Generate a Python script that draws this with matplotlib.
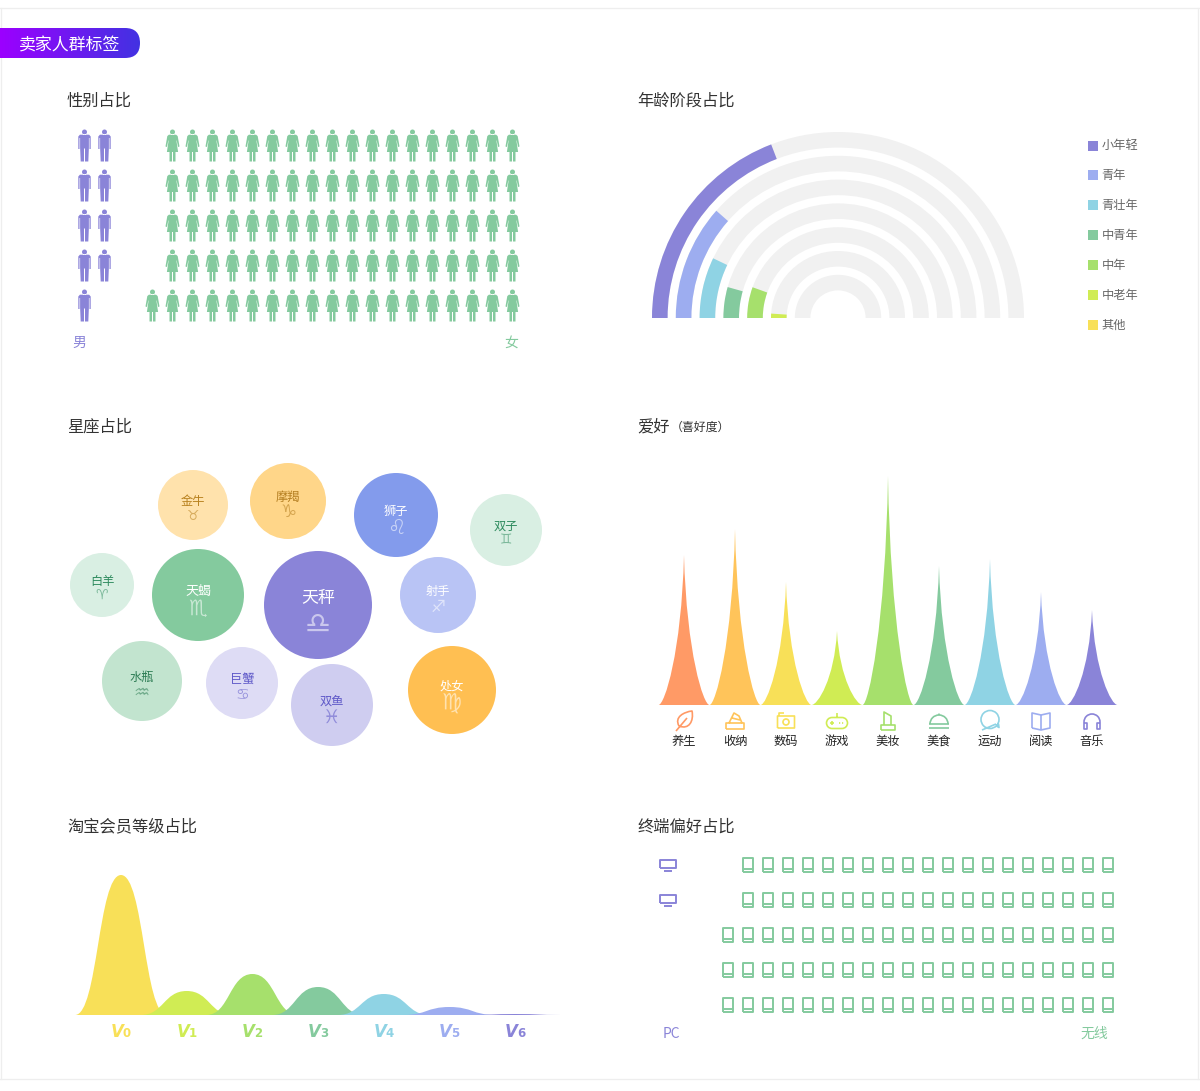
import numpy as np
import matplotlib
matplotlib.use('Agg')
import matplotlib.pyplot as plt
from matplotlib.patches import Wedge, PathPatch, FancyBboxPatch
from matplotlib.path import Path
from matplotlib.transforms import Affine2D

plt.rcParams['font.family'] = ['Noto Sans CJK SC', 'DejaVu Sans']

W, H = 1200, 1091

# Colours
PURPLE = '#8A84D8'
PERI = '#9DADF0'
SKY = '#8FD3E4'
TEAL = '#84CA9E'
GREEN = '#A6E06C'
LIME = '#D0EC54'
YELLOW = '#F8E058'

# Gender
male_count = 9
female_count = 91

# Age
age_labels = ['小年轻', '青年', '青壮年', '中青年', '中年', '中老年', '其他']
age_values = [38.3, 23.0, 14.2, 8.7, 11.0, 2.1, 0.0]
age_colors = [PURPLE, PERI, SKY, TEAL, GREEN, LIME, YELLOW]

# Zodiac
zodiac_names = ['金牛', '摩羯', '狮子', '双子', '白羊', '天蝎', '天秤', '射手', '水瓶', '巨蟹', '双鱼', '处女']
zodiac_signs = ['♉', '♑', '♌', '♊', '♈', '♏', '♎', '♐', '♒', '♋', '♓', '♍']
zodiac_radius = [35, 38, 42, 36, 32, 46, 54, 38, 40, 36, 41, 44]
zodiac_x = [193, 288, 396, 506, 102, 198, 318, 438, 142, 242, 332, 452]
zodiac_y = [505, 501, 515, 530, 585, 595, 605, 595, 681, 683, 705, 690]
zodiac_fill = ['#FFE2AC', '#FFD689', '#839BEC', '#D9EFE3', '#D9EFE3', '#84CA9E', '#8A84D8',
               '#B9C4F5', '#C2E4CF', '#DEDCF5', '#CFCDF0', '#FFBF52']
zodiac_text = ['#B8811E', '#B47E20', 'white', '#2E8B5E', '#2E8B5E', 'white', 'white',
               'white', '#2E7D55', '#5E58C8', '#5E58C8', 'white']
zodiac_sign_pt = [10, 13, 15, 10, 10, 15, 21, 12, 13, 11, 14, 16]

# Hobby
hobby_labels = ['养生', '收纳', '数码', '游戏', '美妆', '美食', '运动', '阅读', '音乐']
hobby_values = [150, 176, 123, 74, 229, 139, 146, 113, 95]
hobby_colors = ['#FF9A66', '#FFC45A', YELLOW, LIME, GREEN, TEAL, SKY, PERI, PURPLE]

# Taobao member level
vip_labels = ['V0', 'V1', 'V2', 'V3', 'V4', 'V5', 'V6']
vip_values = [140, 24, 41, 28, 21, 8, 1]
vip_colors = [YELLOW, LIME, GREEN, TEAL, SKY, PERI, PURPLE]

# Terminal
pc_count = 2
wireless_count = 98


def panel(x0, y0, x1, y1, xlim=None, ylim=None):
    ax = fig.add_axes([x0 / W, 1 - y1 / H, (x1 - x0) / W, (y1 - y0) / H])
    ax.set_xlim(xlim if xlim else (x0, x1))
    ax.set_ylim(ylim if ylim else (y1, y0))
    ax.axis('off')
    ax.patch.set_alpha(0)
    return ax


def px_size(path):
    # scatter scales a custom marker by its largest coordinate
    return (2 * np.abs(path.vertices).max() * 0.72) ** 2


def strokes(*segs):
    return Path.make_compound_path(*[s if isinstance(s, Path) else Path(s) for s in segs])


def ring(x, y, r):
    return Path.circle((x, y), r)


def arc(x, y, r, t1, t2):
    return Path.arc(t1, t2).transformed(Affine2D().scale(r).translate(x, y))


def mirrored(right_side):
    # closed outline from its right half, top to bottom
    left_side = [(-x, y) for x, y in reversed(right_side)]
    pts = right_side + left_side
    return pts + [pts[0]]


def row_split(count, per_row, rows=5):
    out = []
    for _ in range(rows):
        n = min(per_row, count)
        out.append(n)
        count -= n
    return out


def pictogram(ax, left_count, left_per_row, left_x, right_x, row_y, left_icon, right_icon, left_c, right_c,
              stroke=False):
    left_rows = row_split(left_count, left_per_row)
    lx, ly, rx, ry = [], [], [], []
    for r, n in enumerate(left_rows):
        lx += [left_x + 20 * k for k in range(n)]
        ly += [row_y[r]] * n
        m = 20 - n
        rx += [right_x - 20 * k for k in range(m)]
        ry += [row_y[r]] * m
    if stroke:
        ax.scatter(lx, ly, marker=left_icon, s=px_size(left_icon), facecolors='none', edgecolors=left_c, linewidths=1.4)
        ax.scatter(rx, ry, marker=right_icon, s=px_size(right_icon), facecolors='none', edgecolors=right_c, linewidths=1.4)
    else:
        ax.scatter(lx, ly, marker=left_icon, s=px_size(left_icon), color=left_c, linewidths=0)
        ax.scatter(rx, ry, marker=right_icon, s=px_size(right_icon), color=right_c, linewidths=0)


# Icons, drawn around 0,0 in pixels with y up
male_icon = strokes(
    ring(0, 13.5, 2.5),
    mirrored([(0, 10.8), (4.6, 10.8), (6.2, 9), (6.2, -3.5), (5, -3.5), (5, 7.5), (4.4, 7.5), (4.4, -2), (3.8, -16),
              (0.5, -16), (0.5, -3)]))
female_icon = strokes(
    ring(0, 13.5, 2.5),
    mirrored([(0, 10.8), (3.6, 10.8), (5.2, 9.4), (7, -1), (5.6, -1.5), (4.2, 5), (3.9, 5), (5.6, -6.5), (3, -6.5),
              (3, -16), (0.5, -16), (0.5, -6.5)]))
tablet_icon = strokes(
    [(-5.2, -7), (5.2, -7), (5.2, 7), (-5.2, 7), (-5.2, -7)],
    [(-5.2, -3.6), (5.2, -3.6)])
monitor_icon = strokes(
    [(-7.6, -2.6), (7.6, -2.6), (7.6, 5), (-7.6, 5), (-7.6, -2.6)],
    [(-4, -5.6), (4, -5.6)])
hobby_icons = [
    Path([(-5, -5), (-10, 4), (0, 9), (8, 10), (10, 0), (5, -9), (-5, -5), (-8, -10), (3, 3)],
         [Path.MOVETO, Path.CURVE4, Path.CURVE4, Path.CURVE4, Path.CURVE4, Path.CURVE4, Path.CURVE4, Path.MOVETO,
          Path.LINETO]),
    strokes([(-9, -8), (9, -8), (9, -2), (-9, -2), (-9, -8)],
            [(-6, -2), (-1, 8), (4, 5), (7, -2)], [(-3, 3), (5, 1)]),
    strokes([(-8.5, -7), (8.5, -7), (8.5, 5), (-8.5, 5), (-8.5, -7)],
            [(-7, 5), (-7, 8), (-2, 8)], ring(0, -1, 3)),
    strokes(arc(-5, -2, 5.5, 90, 270), arc(5, -2, 5.5, -90, 90),
            [(-5, 3.5), (5, 3.5)], [(-5, -7.5), (5, -7.5)], [(0, 3.5), (0, 8)],
            [(-7, -2), (-3, -2)], [(-5, -4), (-5, 0)], [(2, -2), (3.2, -2)], [(5, -2), (6.2, -2)]),
    strokes([(-7, -9), (7, -9), (7, -4), (-7, -4), (-7, -9)],
            [(-4, -4), (-4, 9), (3, 5), (3, -4)]),
    strokes(arc(0, -3, 9, 0, 180), [(-10, -3), (10, -3)], [(-10, -7), (10, -7)], [(0, 6), (0, 7.5)]),
    strokes(ring(0, 1.5, 9), [(-8, -9), (6, -3)], [(6.5, -5), (9, -6.5), (8.5, -3), (6.5, -5)]),
    strokes([(-9, -7), (-9, 8), (0, 6), (9, 8), (9, -7), (0, -9), (-9, -7)], [(0, 6), (0, -9)]),
    strokes(arc(0, -1, 8, 0, 180), [(-8, -1), (-8, -8), (-5, -8), (-5, -2), (-8, -2)],
            [(8, -1), (8, -8), (5, -8), (5, -2), (8, -2)]),
]

fig = plt.figure(figsize=(W / 100, H / 100), dpi=100, facecolor='white')

# Page frame, header pill, section titles
bg = fig.add_axes([0, 0, 1, 1])
bg.axis('off')
for seg in [((0, 8), (1200, 8)), ((0.5, 8), (0.5, 1079)), ((1198, 8), (1198, 1079)), ((0, 1079), (1200, 1079))]:
    bg.plot(*zip(*seg), color='#EEEEEE', lw=0.9, zorder=1)
pill = FancyBboxPatch((-20, 28), 160, 30, boxstyle='round,pad=0,rounding_size=15', fc='none', ec='none')
bg.add_patch(pill)
grad = bg.imshow(np.linspace(0, 1, 256).reshape(1, -1), extent=(0, 140, 58, 28), aspect='auto', zorder=3,
                 cmap=matplotlib.colors.LinearSegmentedColormap.from_list('pill', ['#9C00FF', '#4232E2']))
grad.set_clip_path(pill)
bg.set_xlim(0, W)
bg.set_ylim(H, 0)
bg.text(70, 46, '卖家人群标签', color='white', fontsize=12.2, ha='center', va='center', zorder=4)

titles = [(67, 101, '性别占比'), (637, 101, '年龄阶段占比'), (67, 427, '星座占比'), (637, 427, '爱好'),
          (67, 827, '淘宝会员等级占比'), (637, 827, '终端偏好占比')]
for x, y, s in titles:
    bg.text(x, y, s, color='#333333', fontsize=11.7, ha='left', va='center')
bg.text(671, 427, '（喜好度）', color='#333333', fontsize=8.6, ha='left', va='center')

# Gender pictogram
ax = panel(60, 120, 540, 330)
pictogram(ax, male_count, 2, 84, 512, [145, 185, 225, 265, 305], male_icon, female_icon, PURPLE, TEAL)
bg.text(79, 343, '男', color=PURPLE, fontsize=10, ha='center', va='center')
bg.text(511, 343, '女', color=TEAL, fontsize=10, ha='center', va='center')

# Age half rings
ax = panel(640, 120, 1040, 330, xlim=(-198, 202), ylim=(-12, 198))
for i, (v, c) in enumerate(zip(age_values, age_colors)):
    r = 186 - 23.8 * i
    ax.add_patch(Wedge((0, 0), r, 0, 180, width=15.6, fc='#F1F1F1', ec='none'))
    if v > 0:
        ax.add_patch(Wedge((0, 0), r, 180 - v * 1.8, 180, width=15.6, fc=c, ec='none'))
for i, (s, c) in enumerate(zip(age_labels, age_colors)):
    y = 145.5 + 29.9 * i
    bg.scatter([1093], [y], marker='s', s=(10 * 0.72) ** 2, color=c, linewidths=0)
    bg.text(1101.5, y, s, color='#666666', fontsize=8.8, ha='left', va='center')

# Zodiac bubbles
ax = panel(60, 455, 550, 755)
ax.scatter(zodiac_x, zodiac_y, s=[(2 * r * 0.72) ** 2 for r in zodiac_radius], c=zodiac_fill, linewidths=0)
for name, sign, r, x, y, tc, pt in zip(zodiac_names, zodiac_signs, zodiac_radius, zodiac_x, zodiac_y, zodiac_text,
                                       zodiac_sign_pt):
    fs = 12.2 if r > 50 else (9.4 if r > 44 else 8.8)
    ax.text(x, y - (7 if r > 50 else 3.5), name, color=tc, fontsize=fs, ha='center', va='center')
    ax.text(x, y + (20 if r > 50 else r * 0.3), sign, color=tc, alpha=0.55, fontsize=pt, ha='center', va='center',
            family='DejaVu Sans')

# Hobby peaks
ax = panel(650, 470, 1130, 760, xlim=((650 - 684) / 51, (1130 - 684) / 51), ylim=(-55, 235))
codes = [Path.MOVETO, Path.LINETO, Path.CURVE4, Path.CURVE4, Path.CURVE4, Path.CURVE4, Path.CURVE4, Path.CURVE4,
         Path.CLOSEPOLY]
for i, (v, c, label, icon) in enumerate(zip(hobby_values, hobby_colors, hobby_labels, hobby_icons)):
    verts = [(i - 0.5, 0), (i + 0.5, 0), (i + 0.38, 0), (i + 0.05, v * 0.35), (i, v), (i - 0.05, v * 0.35),
             (i - 0.38, 0), (i - 0.5, 0), (i - 0.5, 0)]
    ax.add_patch(PathPatch(Path(verts, codes), fc=c, ec='none'))
    ax.scatter([i], [-16], marker=icon, s=px_size(icon), facecolors='none', edgecolors=c, linewidths=1.2)
    ax.text(i, -40, label, color='#222222', fontsize=8.8, ha='center', va='baseline')

# Member levels
ax = panel(60, 860, 560, 1045, xlim=((60 - 121) / 65.7, (560 - 121) / 65.7), ylim=(-30, 155))
half = 0.7
codes = [Path.MOVETO] + [Path.CURVE4] * 6 + [Path.CLOSEPOLY]
for i, (v, c, label) in enumerate(zip(vip_values, vip_colors, vip_labels)):
    verts = [(i - half, 0), (i - half / 2, 0), (i - half / 2, v), (i, v), (i + half / 2, v), (i + half / 2, 0),
             (i + half, 0), (i - half, 0)]
    ax.add_patch(PathPatch(Path(verts, codes), fc=c, ec='none'))
    ax.text(i - 0.06, -17, label[0], color=c, fontsize=12, fontweight='bold', style='italic', ha='center',
            va='center', family='DejaVu Sans')
    ax.text(i + 0.09, -18.5, label[1], color=c, fontsize=8.5, fontweight='bold', ha='center', va='center',
            family='DejaVu Sans')

# Terminal pictogram
ax = panel(640, 845, 1140, 1020)
pictogram(ax, pc_count, 1, 668, 1108, [865, 900, 935, 970, 1005], monitor_icon, tablet_icon, PURPLE, TEAL, stroke=True)
bg.text(671, 1034, 'PC', color=PURPLE, fontsize=10, ha='center', va='center')
bg.text(1094, 1034, '无线', color=TEAL, fontsize=10, ha='center', va='center')

fig.savefig('out.png', dpi=100)
plt.close(fig)
